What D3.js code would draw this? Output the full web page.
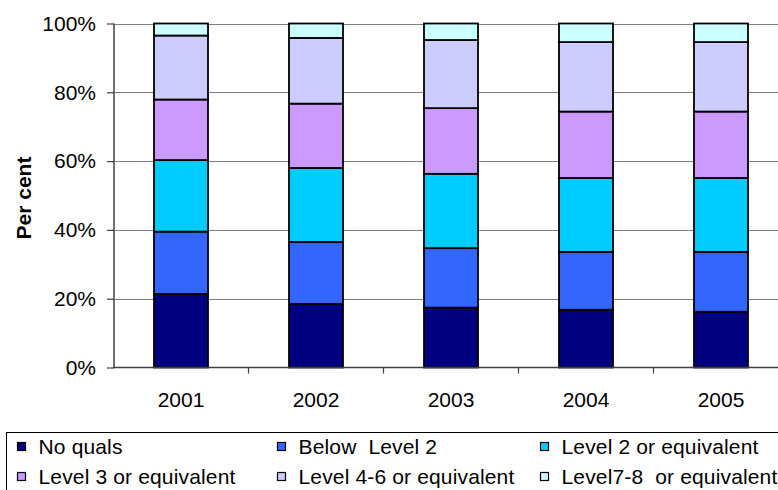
<!DOCTYPE html>
<html><head><meta charset="utf-8">
<script src="https://cdn.jsdelivr.net/npm/d3@7"></script>
<style>body{margin:0;background:#fff}svg{display:block;font-family:"Liberation Sans",Arial,sans-serif}</style>
</head><body>
<svg id="c" width="778" height="490"></svg>
<script>
const years = ["2001","2002","2003","2004","2005"];
const seriesNames = ["No quals","Below  Level 2","Level 2 or equivalent","Level 3 or equivalent","Level 4-6 or equivalent","Level7-8  or equivalent"];
const noQuals   = [21.4, 18.5, 17.4, 16.8, 16.2];
const belowL2   = [18.1, 18.0, 17.3, 16.8, 17.4];
const level2    = [20.8, 21.5, 21.6, 21.5, 21.5];
const level3    = [17.6, 18.7, 19.1, 19.3, 19.3];
const level4to6 = [18.6, 19.1, 19.8, 20.2, 20.2];
const level7to8 = [3.5, 4.2, 4.8, 5.4, 5.4];
const yTicks = [0, 20, 40, 60, 80, 100];
const colors = ["#000080","#3366FF","#00CCFF","#CC99FF","#CCCCFF","#CCFFFF"];

const seriesVals = [noQuals, belowL2, level2, level3, level4to6, level7to8];
const rows = years.map((y,i)=>{const r={year:y}; seriesNames.forEach((s,j)=>r[s]=seriesVals[j][i]); return r;});
const stack = d3.stack().keys(seriesNames)(rows);

const svg = d3.select("#c");
const x = d3.scaleBand().domain(years).range([113.5, 788.5]).paddingInner(0.6).paddingOuter(0.3);
const xb = d3.scaleBand().domain(years).range([113.5, 788.5]);
const y = d3.scaleLinear().domain([0,100]).range([367.5, 23.5]);

// gridlines
svg.append("g").selectAll("line").data(yTicks.filter(t=>t>0)).join("line")
  .attr("x1",114).attr("x2",790).attr("y1",d=>Math.round(y(d))+0.5).attr("y2",d=>Math.round(y(d))+0.5)
  .attr("stroke","#808080").attr("stroke-width",1);

// bars
svg.append("g").selectAll("g").data(stack).join("g").attr("fill",(d,i)=>colors[i])
  .selectAll("rect").data(d=>d).join("rect")
  .attr("x",d=>x(d.data.year)).attr("width",x.bandwidth())
  .attr("y",d=>y(d[1])).attr("height",d=>y(d[0])-y(d[1]))
  .attr("stroke","#000").attr("stroke-width",1.8);

// y axis
const ya = svg.append("g").attr("transform","translate(114,0)")
  .call(d3.axisLeft(y).tickValues(yTicks).tickFormat(d=>d+"%").tickSize(7).tickPadding(11));
ya.select(".domain").attr("stroke","#404040").attr("stroke-width",1.5).attr("d","M0,23.5V367.5");
ya.selectAll(".tick line").attr("stroke","#404040").attr("stroke-width",1.2);
ya.selectAll("text").attr("font-size",21).attr("fill","#000").attr("font-family","Liberation Sans, Arial, sans-serif");

// x axis
const xa = svg.append("g").attr("transform","translate(0,367.5)");
xa.append("line").attr("x1",113).attr("x2",790).attr("y1",0).attr("y2",0).attr("stroke","#404040").attr("stroke-width",1.5);
xa.selectAll("line.tk").data(years.slice(1)).join("line").attr("class","tk")
  .attr("x1",d=>xb(d)).attr("x2",d=>xb(d)).attr("y1",0).attr("y2",6).attr("stroke","#404040").attr("stroke-width",1.2);
xa.selectAll("text").data(years).join("text")
  .attr("x",d=>xb(d)+xb.bandwidth()/2).attr("y",39).attr("text-anchor","middle")
  .attr("font-size",21).text(d=>d);

// y title
svg.append("text").attr("transform","translate(31,198) rotate(-90)").attr("text-anchor","middle")
  .attr("font-size",21).attr("font-weight","bold").text("Per cent");

// legend
svg.append("rect").attr("x",6.5).attr("y",432.5).attr("width",800).attr("height",80)
  .attr("fill","none").attr("stroke","#000").attr("stroke-width",1);
const colX = [17, 277, 540];
const rowY = [447, 477];
const lg = svg.append("g").selectAll("g").data(seriesNames).join("g")
  .attr("transform",(d,i)=>`translate(${colX[i%3]},${rowY[Math.floor(i/3)]})`);
lg.append("rect").attr("x",0.5).attr("y",-4.5).attr("width",8).attr("height",8)
  .attr("fill",(d,i)=>colors[i]).attr("stroke","#000").attr("stroke-width",1.2);
lg.append("text").attr("x",21.5).attr("y",7).attr("font-size",21).attr("letter-spacing",0.15)
  .text(d=>d).attr("xml:space","preserve");
</script>
</body></html>
